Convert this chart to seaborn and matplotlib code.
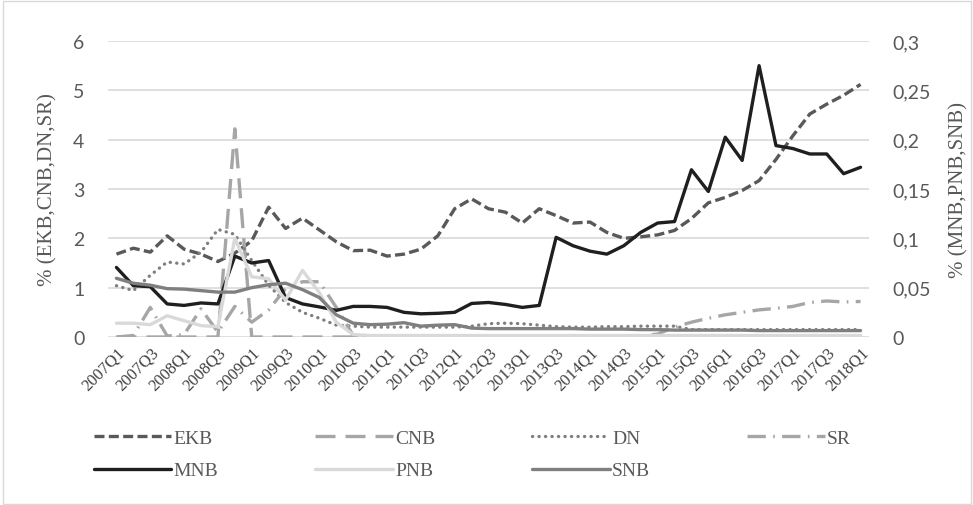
import numpy as np
import pandas as pd
import matplotlib
matplotlib.use("Agg")
import matplotlib.pyplot as plt
from matplotlib.patches import Rectangle
import seaborn as sns

# quarters 2007Q1 .. 2018Q1
quarters = [f"{y}Q{q}" for y in range(2007, 2019) for q in range(1, 5)][:45]

# left axis series (%)
EKB = [1.68, 1.80, 1.72, 2.05, 1.78, 1.68, 1.53, 1.70, 1.95, 2.63,
       2.20, 2.41, 2.17, 1.93, 1.75, 1.76, 1.64, 1.68, 1.78, 2.05,
       2.60, 2.80, 2.60, 2.53, 2.31, 2.60, 2.46, 2.31, 2.33, 2.12,
       2.00, 2.03, 2.07, 2.16, 2.40, 2.72, 2.83, 2.97, 3.17, 3.60,
       4.08, 4.52, 4.72, 4.90, 5.12]
CNB = [0.0, 0.0, 0.0, 0.0, 0.0, 0.0, 0.0, 4.22, 0.0, 0.0,
       0.0, 0.0, 0.0, 0.0, 0.0, 0.0, 0.0, 0.0, 0.0, 0.0,
       0.0, 0.0, 0.0, 0.0, 0.0, 0.0, 0.0, 0.0, 0.0, 0.0,
       0.0, 0.0, 0.0, 0.0, 0.0, 0.0, 0.0, 0.0, 0.0, 0.0,
       0.0, 0.0, 0.0, 0.0, 0.0]
DN = [1.04, 0.94, 1.25, 1.52, 1.48, 1.72, 2.18, 2.08, 1.55, 1.05,
      0.70, 0.50, 0.38, 0.24, 0.22, 0.20, 0.20, 0.20, 0.20, 0.20,
      0.20, 0.22, 0.27, 0.28, 0.27, 0.24, 0.21, 0.20, 0.20, 0.21,
      0.21, 0.22, 0.22, 0.22, 0.15, 0.15, 0.15, 0.15, 0.15, 0.15,
      0.15, 0.15, 0.15, 0.15, 0.15]
SR = [0.0, 0.03, 0.60, 0.02, 0.05, 0.57, 0.10, 0.62, 0.30, 0.55,
      0.98, 1.12, 1.12, 0.60, 0.03, 0.02, 0.02, 0.02, 0.02, 0.02,
      0.02, 0.02, 0.02, 0.02, 0.02, 0.02, 0.02, 0.02, 0.02, 0.02,
      0.02, 0.02, 0.06, 0.20, 0.30, 0.38, 0.45, 0.50, 0.55, 0.58,
      0.62, 0.70, 0.73, 0.71, 0.72]

# right axis series (%)
MNB = [0.0705, 0.052, 0.051, 0.0335, 0.032, 0.0345, 0.0335, 0.082, 0.075, 0.0775,
       0.040, 0.0335, 0.0305, 0.027, 0.031, 0.031, 0.030, 0.025, 0.0235, 0.024,
       0.025, 0.034, 0.035, 0.033, 0.030, 0.032, 0.101, 0.0925, 0.087, 0.084,
       0.0925, 0.106, 0.1155, 0.117, 0.1695, 0.1475, 0.2025, 0.179, 0.275, 0.194,
       0.191, 0.1855, 0.1855, 0.1655, 0.172]
PNB = [0.014, 0.014, 0.0125, 0.0215, 0.0165, 0.0115, 0.0105, 0.100, 0.061, 0.059,
       0.0375, 0.0675, 0.045, 0.015, 0.0025, 0.0015, 0.0015, 0.0015, 0.0015, 0.0015,
       0.0015, 0.0015, 0.0015, 0.0015, 0.0015, 0.0015, 0.0015, 0.0015, 0.0015, 0.0015,
       0.0015, 0.0015, 0.0015, 0.0015, 0.0015, 0.0015, 0.0015, 0.0015, 0.0015, 0.0015,
       0.0015, 0.0015, 0.0015, 0.0015, 0.0015]
SNB = [0.0595, 0.0545, 0.0525, 0.049, 0.0485, 0.047, 0.0455, 0.0455, 0.050, 0.053,
       0.0545, 0.048, 0.040, 0.0225, 0.014, 0.0125, 0.013, 0.0145, 0.011, 0.012,
       0.0125, 0.009, 0.0085, 0.0085, 0.0085, 0.0085, 0.0085, 0.0085, 0.008, 0.008,
       0.008, 0.0075, 0.0075, 0.007, 0.007, 0.007, 0.007, 0.007, 0.0065, 0.0065,
       0.0065, 0.0065, 0.0065, 0.0065, 0.0065]

left_ticks = [0, 1, 2, 3, 4, 5, 6]
right_ticks = [0, 0.05, 0.1, 0.15, 0.2, 0.25, 0.3]
right_labels = ["0", "0,05", "0,1", "0,15", "0,2", "0,25", "0,3"]

df = pd.DataFrame({"q": np.arange(len(quarters)), "EKB": EKB, "CNB": CNB, "DN": DN,
                   "SR": SR, "MNB": MNB, "PNB": PNB, "SNB": SNB})

sns.set_theme(style="white")
plt.rcParams["font.family"] = ["Liberation Serif", "DejaVu Sans"]

fig = plt.figure(figsize=(9.73, 5.06), dpi=100)
ax = fig.add_axes([108 / 973, 1 - 338 / 506, (869 - 108) / 973, (338 - 42) / 506])
ax2 = ax.twinx()

lw = 2.4
styles = {
    "EKB": dict(color="#595959", ls=(0, (3.0, 1.3))),
    "CNB": dict(color="#A6A6A6", ls=(0, (6.0, 3.0))),
    "DN": dict(color="#7F7F7F", ls=(0, (0.05, 1.9)), dash_capstyle="round"),
    "SR": dict(color="#A6A6A6", ls=(0, (5.5, 2.2, 0.5, 2.2))),
    "MNB": dict(color="#1F1F1F", ls="-"),
    "PNB": dict(color="#D9D9D9", ls="-"),
    "SNB": dict(color="#7F7F7F", ls="-"),
}

handles = {}
for name in ["EKB", "CNB", "DN", "SR"]:
    sns.lineplot(data=df, x="q", y=name, ax=ax, lw=lw, legend=False, **styles[name])
    handles[name] = ax.lines[-1]
for name in ["MNB", "PNB", "SNB"]:
    sns.lineplot(data=df, x="q", y=name, ax=ax2, lw=lw, legend=False, **styles[name])
    handles[name] = ax2.lines[-1]

ax.set_xlim(-0.5, len(quarters) - 0.5)
ax.set_ylim(0, 6)
ax2.set_ylim(0, 0.3)

gray = "#595959"
ax.set_yticks(left_ticks, labels=[str(t) for t in left_ticks], family="Lato", fontsize=14, color=gray)
ax2.set_yticks(right_ticks, labels=right_labels, family="Lato", fontsize=14, color=gray)
ax.set_xticks(df["q"][::2], labels=quarters[::2], rotation=45, ha="right",
              rotation_mode="anchor", fontsize=12, color="#404040")
ax.tick_params(axis="y", length=0, pad=17)
ax2.tick_params(axis="y", length=0, pad=17)
ax.tick_params(axis="x", length=0, pad=5)

ax.yaxis.grid(True, color="#D9D9D9", lw=1.2)
ax.xaxis.grid(False)
ax2.grid(False)
for a in (ax, ax2):
    for s in a.spines.values():
        s.set_visible(False)

ax.set_xlabel("")
ax.set_ylabel("% (EKB,CNB,DN,SR)", fontsize=15, color=gray)
ax2.set_ylabel("% (MNB,PNB,SNB)", fontsize=15, color=gray)
ax.yaxis.set_label_coords(-0.066, 0.5)
ax2.yaxis.set_label_coords(1.106, 0.5)

order = ["EKB", "MNB", "CNB", "PNB", "DN", "SNB", "SR"]
fig.legend([handles[n] for n in order], order, loc="upper left",
           bbox_to_anchor=(76 / 973, 1 - 413 / 506), ncol=4, frameon=False,
           fontsize=14, handlelength=4.0, handletextpad=0.1, columnspacing=5.0,
           labelspacing=0.75, labelcolor=gray)

fig.patches.append(Rectangle((3 / 973, 1 / 506), 968 / 973, 503 / 506, transform=fig.transFigure,
                             fill=False, edgecolor="#D9D9D9", lw=1))

fig.savefig("out.png", dpi=100)
